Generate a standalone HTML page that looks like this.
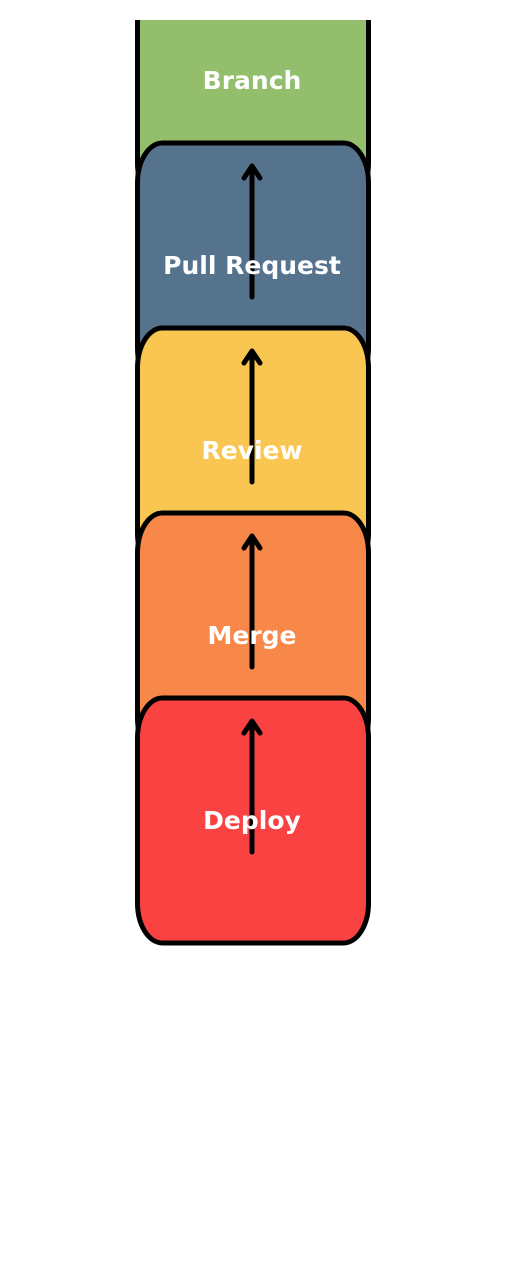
<!DOCTYPE html>
<html><head><style>html,body{margin:0;padding:0;background:#fff;}svg{display:block}</style></head>
<body>
<svg width="505" height="1272" viewBox="0 0 505 1272" xmlns="http://www.w3.org/2000/svg">
<defs><clipPath id="c"><rect x="0" y="20" width="505" height="1252"/></clipPath></defs>
<g clip-path="url(#c)" font-family="DejaVu Sans, sans-serif" font-weight="bold" font-size="25" fill="#fff" text-anchor="middle">
<g stroke="#000" stroke-width="5" stroke-linecap="round" stroke-linejoin="round">
<rect x="137.5" y="-42" width="231" height="245" rx="25" ry="40" fill="#93BE6C"/>
</g>
<text x="252" y="89" fill="#fff">Branch</text>
<g stroke="#000" stroke-width="5" stroke-linecap="round" stroke-linejoin="round">
<rect x="137.5" y="143" width="231" height="245" rx="25" ry="40" fill="#56738E"/>
<path d="M252 297 V166 M244 178 L252 166 L260 178" fill="none"/>
</g>
<text x="252" y="274">Pull Request</text>
<g stroke="#000" stroke-width="5" stroke-linecap="round" stroke-linejoin="round">
<rect x="137.5" y="328" width="231" height="245" rx="25" ry="40" fill="#F9C651"/>
<path d="M252 482 V351 M244 363 L252 351 L260 363" fill="none"/>
</g>
<text x="252" y="459">Review</text>
<g stroke="#000" stroke-width="5" stroke-linecap="round" stroke-linejoin="round">
<rect x="137.5" y="513" width="231" height="245" rx="25" ry="40" fill="#F8874A"/>
<path d="M252 667 V536 M244 548 L252 536 L260 548" fill="none"/>
</g>
<text x="252" y="644">Merge</text>
<g stroke="#000" stroke-width="5" stroke-linecap="round" stroke-linejoin="round">
<rect x="137.5" y="698" width="231" height="245" rx="25" ry="40" fill="#FA4242"/>
<path d="M252 852 V721 M244 733 L252 721 L260 733" fill="none"/>
</g>
<text x="252" y="829">Deploy</text>
</g>
</svg>
</body></html>
